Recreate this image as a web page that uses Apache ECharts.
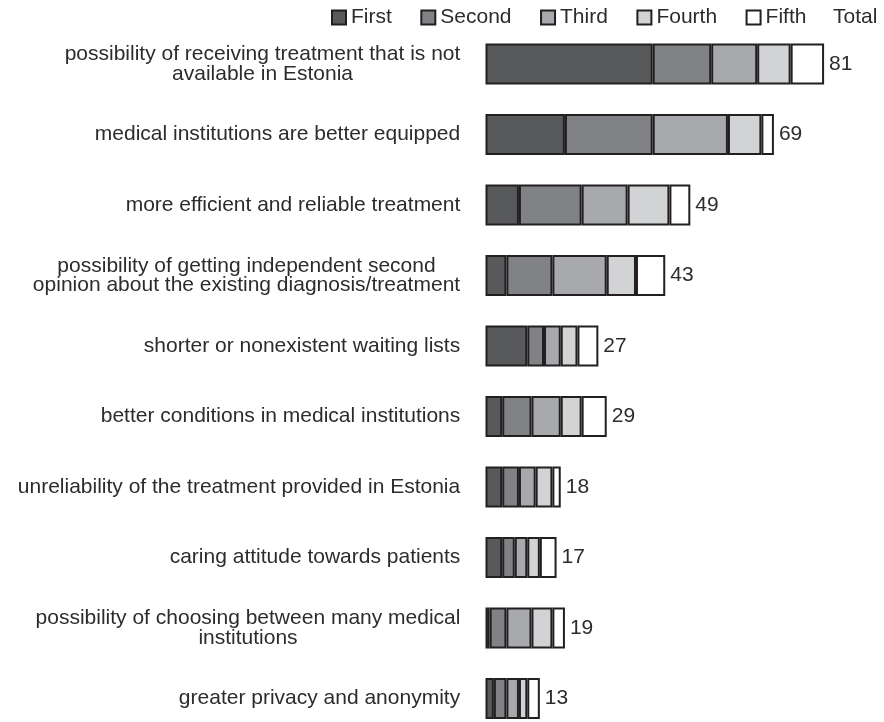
<!DOCTYPE html>
<html>
<head>
<meta charset="utf-8">
<script src="https://cdn.jsdelivr.net/npm/echarts@6/dist/echarts.min.js"></script>
<style>
html,body{margin:0;padding:0;background:#fff;}
#chart{width:884px;height:722px;}
</style>
</head>
<body>
<div id="chart"></div>
<script>
const categories = [
  "possibility of receiving treatment that is not\navailable in Estonia",
  "medical institutions are better equipped",
  "more efficient and reliable treatment",
  "possibility of getting independent second\nopinion about the existing diagnosis/treatment",
  "shorter or nonexistent waiting lists",
  "better conditions in medical institutions",
  "unreliability of the treatment provided in Estonia",
  "caring attitude towards patients",
  "possibility of choosing between many medical\ninstitutions",
  "greater privacy and anonymity"
];
const first  = [40, 19, 8, 5, 10, 4, 4, 4, 1, 2];
const second = [14, 21, 15, 11, 4, 7, 4, 3, 4, 3];
const third  = [11, 18, 11, 13, 4, 7, 4, 3, 6, 3];
const fourth = [8, 8, 10, 7, 4, 5, 4, 3, 5, 2];
const fifth  = [8, 3, 5, 7, 5, 6, 2, 4, 3, 3];
const totals = [81, 69, 49, 43, 27, 29, 18, 17, 19, 13];
const seriesNames = ["First", "Second", "Third", "Fourth", "Fifth"];

const FONT = '"Liberation Sans", Arial, Helvetica, sans-serif';
const TXT = '#2e2b2c';
const LABEL_SIZE = 21;
const LABEL_LH = 19.5;

// per-label rich styles so multi-line labels are centred inside a right-aligned block
const ctx = document.createElement('canvas').getContext('2d');
ctx.font = LABEL_SIZE + 'px "Liberation Sans"';
const rich = {};
categories.forEach((c, i) => {
  const lines = c.split('\n');
  const w = Math.ceil(Math.max.apply(null, lines.map(l => ctx.measureText(l).width)));
  rich['c' + i] = {width: w, align: 'center', fontSize: LABEL_SIZE, lineHeight: LABEL_LH, fontFamily: FONT, color: TXT};
});

const colors = ['#58595b', '#808285', '#a7a9ac', '#d1d3d4', '#ffffff'];
const dataSets = [first, second, third, fourth, fifth];

const series = dataSets.map((d, k) => ({
  name: seriesNames[k],
  type: 'bar',
  stack: 'all',
  barWidth: 41,
  data: d,
  itemStyle: {color: colors[k], borderColor: '#231f20', borderWidth: 2},
  emphasis: {disabled: true}
}));
series.push({
  name: 'Total',
  type: 'bar',
  stack: 'all',
  barWidth: 41,
  data: totals.map(() => 0),
  itemStyle: {color: 'rgba(0,0,0,0)', borderWidth: 0},
  label: {
    show: true, position: 'right', distance: 5,
    formatter: p => String(totals[p.dataIndex]),
    fontSize: 21, fontFamily: FONT, color: TXT
  },
  emphasis: {disabled: true}
});

const chart = echarts.init(document.getElementById('chart'), null, {renderer: 'canvas'});
chart.setOption({
  animation: false,
  backgroundColor: '#ffffff',
  legend: [{
    data: seriesNames,
    left: 331, top: 7,
    padding: 0,
    icon: 'rect',
    itemWidth: 14, itemHeight: 14,
    itemGap: 28.5,
    itemStyle: {borderColor: '#231f20', borderWidth: 2},
    textStyle: {fontSize: 21, lineHeight: 21, fontFamily: FONT, color: TXT},
    selectedMode: false
  }, {
    data: [{name: 'Total', icon: 'none'}],
    left: 828, top: 7,
    padding: 0,
    itemWidth: 0, itemHeight: 14,
    textStyle: {fontSize: 21, lineHeight: 21, fontFamily: FONT, color: TXT},
    selectedMode: false
  }],
  grid: {left: 485.5, top: 28.75, width: 418, height: 705, outerBoundsMode: 'none', containLabel: false},
  xAxis: {type: 'value', min: 0, max: 100, show: false},
  yAxis: {
    type: 'category',
    inverse: true,
    data: categories,
    axisLine: {show: false},
    axisTick: {show: false},
    splitLine: {show: false},
    axisLabel: {
      margin: 25,
      formatter: (v, idx) => v.split('\n').map(l => '{c' + idx + '|' + l + '}').join('\n'),
      rich: rich
    }
  },
  series: series
});
</script>
</body>
</html>
